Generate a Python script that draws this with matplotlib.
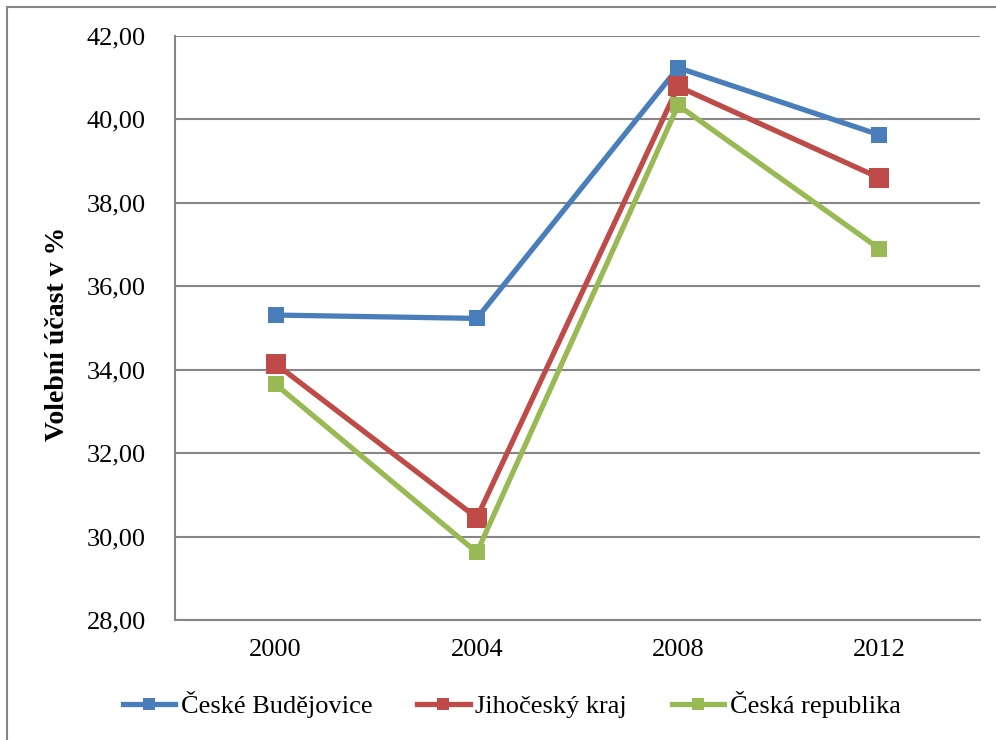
import matplotlib
matplotlib.use("Agg")
import matplotlib.pyplot as plt
from matplotlib.patches import Rectangle
from matplotlib.ticker import FuncFormatter

# volební účast v krajských volbách
years = ["2000", "2004", "2008", "2012"]
ceske_budejovice = [35.31, 35.23, 41.24, 39.63]
jihocesky_kraj = [34.14, 30.45, 40.79, 38.60]
ceska_republika = [33.65, 29.62, 40.34, 36.90]

series_names = ["České Budějovice", "Jihočeský kraj", "Česká republika"]
series_colors = ["#4A7EBB", "#BE4B48", "#98B954"]
marker_sizes = [11, 15, 11]

plt.rcParams['font.family'] = ['Liberation Serif', 'DejaVu Serif']

fig = plt.figure(figsize=(9.96, 7.4), dpi=100)
ax = fig.add_axes([175/996, 1 - 620/740, 805/996, 584/740])

x = range(len(years))
for vals, name, col, ms in zip([ceske_budejovice, jihocesky_kraj, ceska_republika],
                               series_names, series_colors, marker_sizes):
    ax.plot(x, vals, color=col, lw=3.8, marker="s", markersize=ms,
            markeredgewidth=0, label=name, zorder=3)

ax.set_xlim(-0.5, 3.5)
ax.set_ylim(28, 42)
ax.set_yticks(range(28, 43, 2))
ax.yaxis.set_major_formatter(FuncFormatter(lambda v, p: f"{v:.2f}".replace(".", ",")))
ax.set_xticks(list(x))
ax.set_xticklabels(years)
ax.tick_params(length=0, labelsize=19, colors="black")
ax.tick_params(axis="y", pad=21)
ax.tick_params(axis="x", pad=14)
ax.grid(axis="y", color="#868686", lw=1.5)
ax.set_axisbelow(True)
for s in ["top", "right"]:
    ax.spines[s].set_visible(False)
for s in ["left", "bottom"]:
    ax.spines[s].set_color("#868686")
    ax.spines[s].set_linewidth(1.5)

ax.set_ylabel("Volební účast v %", fontsize=20, fontweight="bold")
ax.yaxis.set_label_coords(-0.130, 0.49)

leg = fig.legend(loc="center", bbox_to_anchor=(0.5136, 1 - 705/740), ncol=3,
                 frameon=False, fontsize=19, handlelength=2.0, handletextpad=0.2,
                 columnspacing=1.7)
for h in leg.legend_handles:
    h.set_markersize(9)

# outer chart border
fig.patches.append(Rectangle((7/996, -0.1), 1.1, 1 - 7/740 + 0.1, transform=fig.transFigure,
                             fill=False, edgecolor="#868686", lw=1.5))

fig.savefig("out.png", dpi=100)
